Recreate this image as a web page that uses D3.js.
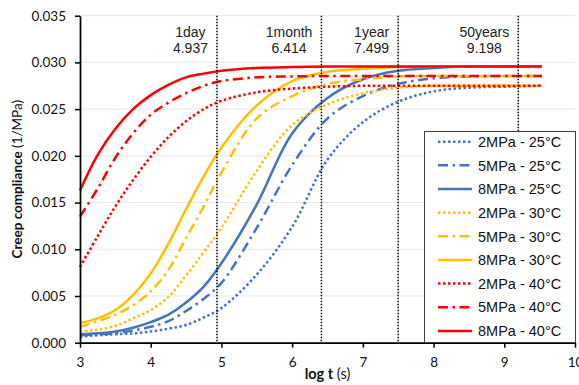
<!DOCTYPE html>
<html>
<head>
<meta charset="utf-8">
<script src="https://cdn.jsdelivr.net/npm/d3@7"></script>
<style>
  body { margin: 0; background: #fff; }
</style>
</head>
<body>
<div id="chart"></div>
<script>
// log t (s) sample points
const logT = [3, 3.25, 3.5, 3.75, 4, 4.25, 4.5, 4.75, 5, 5.5, 6, 6.5, 7, 7.5, 8, 8.5, 9, 9.53];

// creep compliance (1/MPa)
const mpa2c25 = [0.00065, 0.0008, 0.0009, 0.0010, 0.0012, 0.0015, 0.0019, 0.0027, 0.0037, 0.0073, 0.0124, 0.0196, 0.0236, 0.0258, 0.0269, 0.0273, 0.0274, 0.0275];
const mpa5c25 = [0.0008, 0.0009, 0.0010, 0.0013, 0.0017, 0.0023, 0.0034, 0.0047, 0.0064, 0.0123, 0.0190, 0.0240, 0.0264, 0.0277, 0.0283, 0.0285, 0.02855, 0.02855];
const mpa8c25 = [0.0009, 0.0010, 0.0012, 0.0016, 0.0022, 0.0030, 0.0043, 0.0060, 0.0085, 0.0148, 0.0224, 0.0262, 0.0282, 0.0291, 0.0294, 0.02955, 0.02955, 0.02955];
const mpa2c30 = [0.0012, 0.0014, 0.0018, 0.0026, 0.0035, 0.0049, 0.0072, 0.0097, 0.0123, 0.0184, 0.0233, 0.0255, 0.0267, 0.0273, 0.0275, 0.0275, 0.0275, 0.0275];
const mpa5c30 = [0.0017, 0.0023, 0.0030, 0.0040, 0.0055, 0.0078, 0.0112, 0.0146, 0.0182, 0.0240, 0.0264, 0.0277, 0.0282, 0.0285, 0.02855, 0.02855, 0.02855, 0.02855];
const mpa8c30 = [0.0021, 0.0026, 0.0035, 0.0051, 0.0074, 0.0106, 0.0143, 0.0178, 0.0209, 0.0254, 0.0280, 0.0290, 0.0293, 0.0295, 0.02955, 0.02955, 0.02955, 0.02955];
const mpa2c40 = [0.0081, 0.0114, 0.0146, 0.0174, 0.0199, 0.0220, 0.0237, 0.0250, 0.0259, 0.0268, 0.0272, 0.0274, 0.0275, 0.0275, 0.0275, 0.0275, 0.0275, 0.0275];
const mpa5c40 = [0.0135, 0.0165, 0.0198, 0.0224, 0.0244, 0.0257, 0.0267, 0.0275, 0.0280, 0.0284, 0.0285, 0.02855, 0.02855, 0.02855, 0.02855, 0.02855, 0.02855, 0.02855];
const mpa8c40 = [0.0163, 0.0201, 0.0229, 0.0250, 0.0265, 0.0276, 0.0284, 0.0288, 0.0291, 0.0294, 0.0295, 0.02955, 0.02955, 0.02955, 0.02955, 0.02955, 0.02955, 0.02955];

const seriesNames = ["2MPa - 25°C", "5MPa - 25°C", "8MPa - 25°C",
                     "2MPa - 30°C", "5MPa - 30°C", "8MPa - 30°C",
                     "2MPa - 40°C", "5MPa - 40°C", "8MPa - 40°C"];
const seriesValues = [mpa2c25, mpa5c25, mpa8c25, mpa2c30, mpa5c30, mpa8c30, mpa2c40, mpa5c40, mpa8c40];

// time markers
const markerNames = ["1day", "1month", "1year", "50years"];
const markerValues = [4.937, 6.414, 7.499, 9.198];

const xTicks = [3, 4, 5, 6, 7, 8, 9, 10];
const yTicks = [0, 0.005, 0.010, 0.015, 0.020, 0.025, 0.030, 0.035];

// styles
const colors = ["#4472C4", "#4472C4", "#4472C4", "#FFC000", "#FFC000", "#FFC000", "#FF0000", "#FF0000", "#FF0000"];
const dashes = ["2.5,2.5", "10,4.5,2.5,4.5", null];

const W = 579, H = 385;
const margin = {top: 15.7, right: 4, bottom: 42.3, left: 80};

const x = d3.scaleLinear().domain([3, 10]).range([margin.left, W - margin.right]);
const y = d3.scaleLinear().domain([0, 0.035]).range([H - margin.bottom, margin.top]);

const svg = d3.select("#chart").append("svg")
    .attr("width", W)
    .attr("height", H)
    .style("font-family", "Lato, 'Liberation Sans', sans-serif");

// gridlines
svg.append("g")
    .selectAll("line")
    .data(yTicks)
    .enter().append("line")
    .attr("x1", margin.left).attr("x2", W - margin.right)
    .attr("y1", d => y(d)).attr("y2", d => y(d))
    .attr("stroke", "#e6e6e6")
    .attr("stroke-width", 1);

// curves
const line = d3.line()
    .x((d, i) => x(logT[i]))
    .y(d => y(d))
    .curve(d3.curveCatmullRom.alpha(0.5));

svg.append("g")
    .selectAll("path")
    .data(seriesValues)
    .enter().append("path")
    .attr("d", d => line(d))
    .attr("fill", "none")
    .attr("stroke", (d, i) => colors[i])
    .attr("stroke-width", 2.5)
    .attr("stroke-dasharray", (d, i) => dashes[i % 3]);

// vertical time markers
svg.append("g")
    .selectAll("line")
    .data(markerValues)
    .enter().append("line")
    .attr("x1", d => x(d)).attr("x2", d => x(d))
    .attr("y1", y(0.035)).attr("y2", y(0))
    .attr("stroke", "#000")
    .attr("stroke-width", 1.5)
    .attr("stroke-dasharray", "1.5,1.5");

const labels = svg.append("g")
    .style("font-family", "'Liberation Sans', Arial, sans-serif")
    .style("font-size", "14px")
    .attr("fill", "#222");

markerValues.forEach((v, i) => {
    const t = labels.append("text").attr("text-anchor", "middle");
    const a = t.append("tspan").attr("y", 37).text(markerNames[i]);
    const b = t.append("tspan").attr("y", 53).text(v.toFixed(3));
    const wMax = Math.max(a.node().getComputedTextLength(), b.node().getComputedTextLength());
    const cx = x(v) - 9 - wMax / 2;
    a.attr("x", cx);
    b.attr("x", cx);
});

// axes
const yAxis = d3.axisLeft(y).tickValues(yTicks).tickFormat(d3.format(".3f"))
    .tickSize(5).tickSizeOuter(0).tickPadding(9);
const xAxis = d3.axisBottom(x).tickValues(xTicks).tickFormat(d3.format("d"))
    .tickSize(5).tickSizeOuter(0).tickPadding(10);

const gy = svg.append("g")
    .attr("transform", `translate(${margin.left},0)`)
    .call(yAxis);
const gx = svg.append("g")
    .attr("transform", `translate(0,${H - margin.bottom})`)
    .call(xAxis);

[gx, gy].forEach(g => {
    g.select(".domain").attr("stroke", "#000").attr("stroke-width", 1.75);
    g.selectAll(".tick line").attr("stroke", "#000").attr("stroke-width", 1.5);
    g.selectAll(".tick text")
        .attr("fill", "#111")
        .style("font-family", "Lato, sans-serif")
        .style("font-size", "13.5px");
});

// axis titles
const yTitle = svg.append("text")
    .attr("transform", `translate(22,${(margin.top + H - margin.bottom) / 2}) rotate(-90)`)
    .attr("text-anchor", "middle")
    .style("font-size", "13.5px")
    .attr("fill", "#111");
yTitle.append("tspan").style("font-weight", "bold").text("Creep compliance");
yTitle.append("tspan").text(" (1/MPa)");

const xTitle = svg.append("text")
    .attr("x", (margin.left + W - margin.right) / 2)
    .attr("y", 379)
    .attr("text-anchor", "middle")
    .style("font-size", "14.5px")
    .attr("fill", "#111");
xTitle.append("tspan").style("font-weight", "bold").text("log t");
xTitle.append("tspan").text(" (s)");

// legend
const legend = svg.append("g")
    .style("font-family", "'Liberation Sans', Arial, sans-serif")
    .style("font-size", "14.5px");

legend.append("rect")
    .attr("x", 424.5).attr("y", 131.5)
    .attr("width", 151).attr("height", 211)
    .attr("fill", "#fff")
    .attr("stroke", "#404040")
    .attr("stroke-width", 1);

const rows = legend.selectAll("g.row")
    .data(seriesNames)
    .enter().append("g")
    .attr("class", "row")
    .attr("transform", (d, i) => `translate(0,${141.7 + i * 23.65})`);

rows.append("line")
    .attr("x1", 438).attr("x2", 472)
    .attr("stroke", (d, i) => colors[i])
    .attr("stroke-width", 2.5)
    .attr("stroke-dasharray", (d, i) => dashes[i % 3]);

rows.append("text")
    .attr("x", 478)
    .attr("dy", "0.36em")
    .attr("fill", "#111")
    .text(d => d);
</script>
</body>
</html>
